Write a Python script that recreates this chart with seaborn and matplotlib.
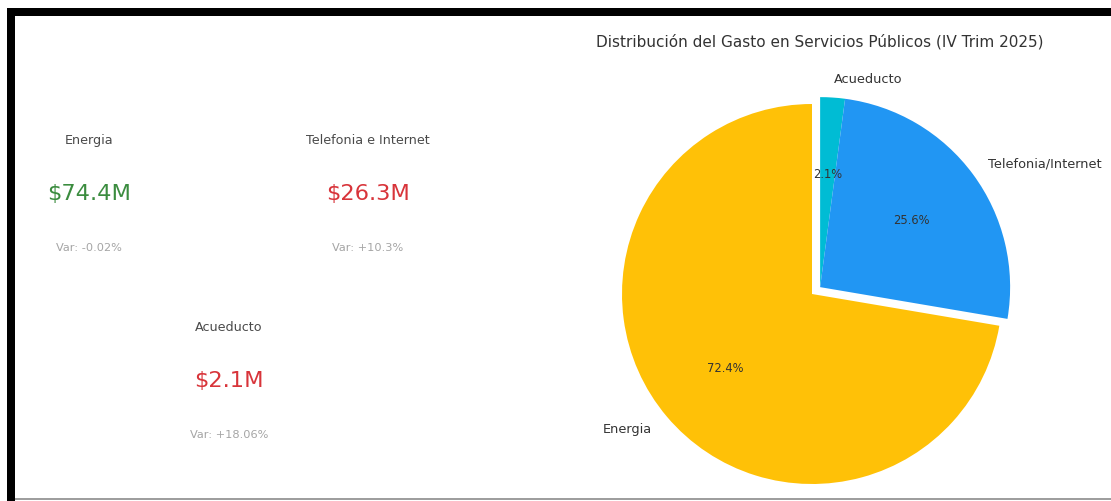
import matplotlib
matplotlib.use("Agg")
import matplotlib.pyplot as plt
import seaborn as sns
import numpy as np
from matplotlib.patches import Rectangle

# Participación del gasto por servicio (porcentaje)
servicios = ["Acueducto", "Telefonia/Internet", "Energia"]
participacion = [2.1, 25.6, 72.4]
colores_servicio = ["#00BCD4", "#2196F3", "#FFC107"]

# Tarjetas de indicadores
kpi_nombres = ["Energia", "Telefonia e Internet", "Acueducto"]
kpi_valores = [74.4, 26.3, 2.1]        # millones
kpi_variacion = [-0.02, 10.3, 18.06]   # porcentaje

titulo = "Distribución del Gasto en Servicios Públicos (IV Trim 2025)"

sns.set_theme(style="white")
plt.rcParams["font.family"] = ["DejaVu Sans"]

W, H = 1111, 502
fig = plt.figure(figsize=(W / 100, H / 100), dpi=100)
fig.patch.set_facecolor("white")

def px(x, y):
    """Pixel position (from top-left) to figure fraction."""
    return x / W, 1 - y / H

# Marco del tablero
fig.add_artist(Rectangle(px(7, H), 8 / W, (H - 9) / H, transform=fig.transFigure,
                         facecolor="black", edgecolor="none"))
fig.add_artist(Rectangle(px(7, 17), (W - 7) / W, 8 / H, transform=fig.transFigure,
                         facecolor="black", edgecolor="none"))
fig.add_artist(Rectangle(px(15, 501), (W - 15) / W, 2 / H, transform=fig.transFigure,
                         facecolor="#9e9e9e", edgecolor="none"))

# Tarjetas KPI
verde, rojo = "#3b8c3f", "#d8343a"
posiciones = [(89, 141), (368, 141), (229, 328)]
for nombre, valor, var, (cx, cy) in zip(kpi_nombres, kpi_valores, kpi_variacion, posiciones):
    color = verde if var < 0 else rojo
    fig.text(*px(cx, cy), nombre, ha="center", va="center", fontsize=9.2, color="#4a4a4a")
    fig.text(*px(cx, cy + 53), f"${valor:g}M", ha="center", va="center",
             fontsize=16.2, color=color)
    fig.text(*px(cx, cy + 107), f"Var: {var:+g}%", ha="center", va="center",
             fontsize=8.2, color="#a5a5a5")

# Gráfico de torta
R = 190.0
cx_px, cy_px = 812, 295
ax_left, ax_top = 560, 20
ax = fig.add_axes([ax_left / W, 0, (W - ax_left) / W, (H - ax_top) / H])
total = sum(participacion)
wedges, textos, pcts = ax.pie(
    participacion, labels=servicios, colors=sns.color_palette(colores_servicio),
    autopct=lambda p: f"{p * total / 100:.1f}%", startangle=90, counterclock=False,
    wedgeprops={"linewidth": 0, "edgecolor": "none"},
    textprops={"fontsize": 9.3, "color": "#333333"},
)
for t in pcts:
    t.set_fontsize(8.3)
    t.set_color("#333333")

# Desplazar juntos Acueducto y Telefonía sobre la bisectriz del grupo
frac_grupo = (participacion[0] + participacion[1]) / total
ang = np.deg2rad(90 - 360 * frac_grupo / 2)
d = 0.056
dx, dy = d * np.cos(ang), d * np.sin(ang)
for i in (0, 1):
    wedges[i].set_center((dx, dy))
    for t in (textos[i], pcts[i]):
        x, y = t.get_position()
        t.set_position((x + dx, y + dy))

ax.set_xlim(-(cx_px - ax_left) / R, (W - cx_px) / R)
ax.set_ylim(-(H - cy_px) / R, (cy_px - ax_top) / R)
ax.set_aspect("auto")
ax.axis("off")

fig.text(*px(820, 42), titulo, ha="center", va="center", fontsize=11, color="#333333")

fig.savefig("out.png", dpi=100, facecolor="white")
